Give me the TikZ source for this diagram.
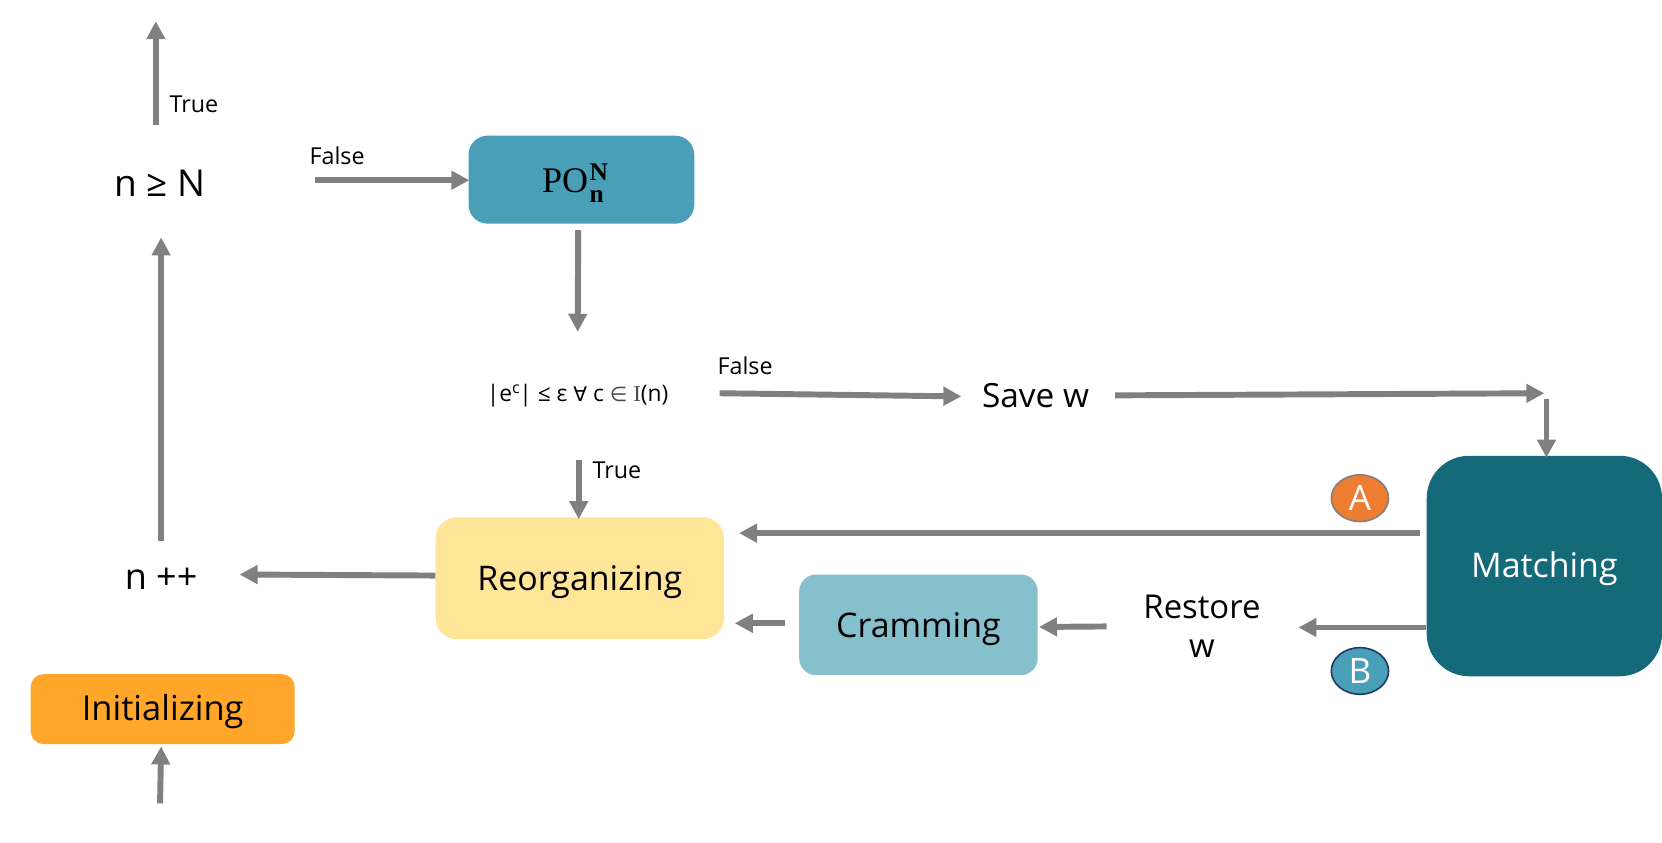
\documentclass[tikz,border=0pt]{standalone}
\usepackage{fontspec}
\setmainfont{Open Sans}
\newfontfamily\mathser{Liberation Serif}
\newfontfamily\symf{DejaVu Sans}
\usetikzlibrary{arrows.meta,shapes.geometric}
\definecolor{arrowgray}{HTML}{808080}
\definecolor{pocol}{HTML}{4A9FB8}
\definecolor{reorg}{HTML}{FFE597}
\definecolor{cram}{HTML}{85C0CC}
\definecolor{match}{HTML}{156A7A}
\definecolor{initc}{HTML}{FFA62B}
\definecolor{acol}{HTML}{ED7D31}
\definecolor{bedge}{HTML}{1F3864}
\newcommand{\fsz}[1]{\fontsize{#1pt}{1.2\dimexpr #1pt\relax}\selectfont}
\newcommand{\lowr}[2]{\raisebox{#1}[0pt][0pt]{#2}}
\tikzset{
  x=1pt,y=-1pt,
  conn/.style={draw=arrowgray,line width=5.6pt,-{Triangle[length=17pt,width=17pt]}},
  procbox/.style={rectangle,anchor=center,inner sep=0pt},
  plain/.style={inner sep=0pt,anchor=center,text=black},
  lbl/.style={plain,font=\fsz{22}},
  badge/.style={ellipse,minimum width=54pt,minimum height=44pt,inner sep=0pt,line width=1.5pt,text=white,font=\fsz{33}},
}
\begin{document}
\begin{tikzpicture}
\useasboundingbox (0,0) rectangle (1568,795.3);
% boxes
\node[procbox,fill=pocol,rounded corners=18pt,minimum width=213pt,minimum height=83pt] (po) at (548.5,169.5)
  {\lowr{-12.5pt}{\mathser\fsz{34}PO\hspace{1.5pt}\raisebox{-9pt}{\rlap{\fsz{24}\textbf{n}}}\raisebox{12pt}{\fsz{24}\textbf{N}}}\hspace*{12pt}};
\node[procbox,fill=reorg,rounded corners=20pt,minimum width=272pt,minimum height=115pt,font=\fsz{32}] (reorg) at (547,545.5) {\lowr{-11.5pt}{Reorganizing}};
\node[procbox,fill=cram,rounded corners=16pt,minimum width=225pt,minimum height=95pt,font=\fsz{32}] (cram) at (866.5,589.5) {\lowr{-12.3pt}{Cramming}};
\node[procbox,fill=match,rounded corners=40pt,minimum width=222pt,minimum height=208pt,text=white,font=\fsz{32}] (match) at (1457,534) {\lowr{-11.3pt}{Matching}};
\node[procbox,fill=initc,rounded corners=12pt,minimum width=249pt,minimum height=66pt,font=\fsz{32.5}] (init) at (153.5,669) {\lowr{-10.4pt}{Initializing}};
% text nodes
\node[plain,font=\fsz{35}] (cond) at (151,173) {n ≥ N};
\node[plain,font=\fsz{21.5}] (test) at (545,373) {|e\textsuperscript{c}\kern-1pt| ≤ ε {\symf\fsz{19}∀} c {\symf\fsz{19}\textcolor{black!70}{∈}} {\mathser\textcolor{black!70}{I}}(n)};
\node[plain,font=\fsz{31.5}] (save) at (977,373) {Save w};
\node[plain,font=\fsz{34}] (npp) at (152,546) {n ++};
\node[plain,font=\fsz{31},align=center] (rest) at (1134,591) {Restore\\w};
% free ends
\coordinate (top) at (147,20);
\coordinate (bottom) at (151,758);
\coordinate (corner) at (1457,371);
% connectors
\draw[conn] ([shift={(-4,-55)}]cond.center) -- (top);
\draw[conn] ([shift={(146,-3)}]cond.center) -- ([shift={(1,0.5)}]po.west);
\draw[conn] ([shift={(-3,6)}]po.south) -- ([shift={(0,-60)}]test.center);
\draw[conn] ([shift={(134,-2)}]test.center) -- ([shift={(-70,1)}]save.center);
\draw[conn] ([shift={(75,0)}]save.center) -- (corner);
\draw[conn] ([shift={(2,5)}]corner) -- ([shift={(2,2)}]match.north);
\draw[conn] ([shift={(1,61)}]test.center) -- ([shift={(-1,2)}]reorg.north);
\draw[conn] ([shift={(-6,-31)}]match.west) -- ([shift={(14,-42.5)}]reorg.east);
\draw[conn] ([shift={(0,58)}]match.west) -- ([shift={(91,1)}]rest.center);
\draw[conn] ([shift={(-90,0)}]rest.center) -- ([shift={(1,2)}]cram.east);
\draw[conn] ([shift={(-13,-1.5)}]cram.west) -- ([shift={(10,42.5)}]reorg.east);
\draw[conn] ([shift={(0,-2.5)}]reorg.west) -- ([shift={(74,-4)}]npp.center);
\draw[conn] ([shift={(0,-36)}]npp.center) -- ([shift={(1,51)}]cond.center);
\draw[conn] (bottom) -- ([shift={(-1.5,2)}]init.south);
% badges
\node[badge,fill=acol,draw=arrowgray] (a) at (1283,470) {A};
\node[badge,fill=pocol,draw=bedge] (b) at (1283,633) {B};
% labels
\node[lbl] (ltrue1) at (183,98) {True};
\node[lbl] (lfalse1) at (318,147) {False};
\node[lbl] (lfalse2) at (703,345) {False};
\node[lbl] (ltrue2) at (582,444) {True};
\end{tikzpicture}
\end{document}
